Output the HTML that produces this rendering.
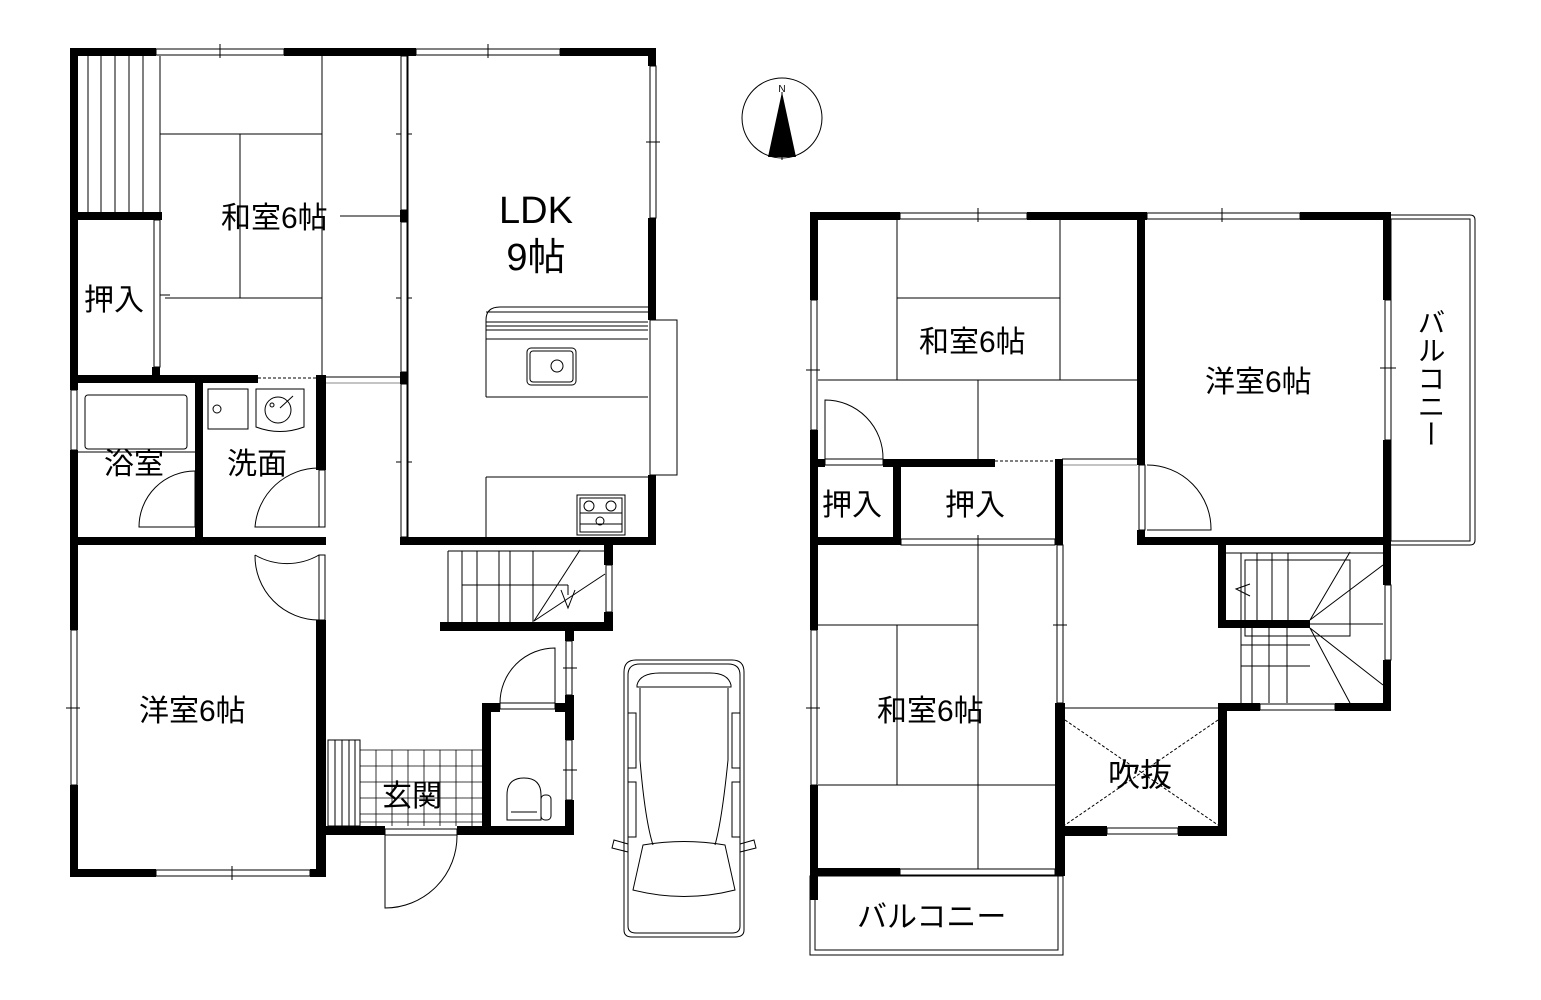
<!DOCTYPE html>
<html><head><meta charset="utf-8"><style>
html,body{margin:0;padding:0;background:#fff;}
svg{display:block}
text{font-family:"Liberation Sans","Noto Sans CJK JP",sans-serif;fill:#000}
</style></head><body>
<svg width="1541" height="1000" viewBox="0 0 1541 1000" xmlns="http://www.w3.org/2000/svg">
<g fill="none" stroke="#000" stroke-width="1">
<line x1="160" y1="56" x2="160" y2="212"/>
<line x1="88" y1="56" x2="88" y2="212"/><line x1="101" y1="56" x2="101" y2="212"/><line x1="115" y1="56" x2="115" y2="212"/><line x1="129" y1="56" x2="129" y2="212"/><line x1="143" y1="56" x2="143" y2="212"/>
<line x1="160" y1="134" x2="322" y2="134"/>
<line x1="165" y1="298" x2="322" y2="298"/>
<line x1="322" y1="56" x2="322" y2="375"/>
<line x1="240" y1="134" x2="240" y2="298"/>
<line x1="340" y1="216" x2="400" y2="216"/>
<line x1="155" y1="295" x2="170" y2="295"/>
<line x1="325" y1="377" x2="400" y2="377"/><line x1="325" y1="383" x2="400" y2="383" stroke="#888"/>
<line x1="408" y1="56" x2="408" y2="537"/>
<line x1="396" y1="134" x2="412" y2="134"/><line x1="396" y1="298" x2="412" y2="298"/><line x1="396" y1="462" x2="412" y2="462"/>
<path d="M486 339 L486 320 Q486 307 500 307 L648 307"/>
<line x1="486" y1="312" x2="648" y2="312"/><line x1="486" y1="322" x2="648" y2="322"/><line x1="486" y1="326" x2="648" y2="326"/><line x1="486" y1="330" x2="648" y2="330"/><line x1="486" y1="339" x2="648" y2="339"/>
<line x1="486" y1="339" x2="486" y2="397"/><line x1="486" y1="397" x2="648" y2="397"/>
<rect x="527" y="348" width="49" height="37" rx="4"/><rect x="530" y="351" width="43" height="31" rx="3"/>
<circle cx="557" cy="366" r="6"/>
<rect x="650" y="320" width="27" height="155"/>
<line x1="486" y1="477" x2="648" y2="477"/><line x1="486" y1="477" x2="486" y2="537"/>
<rect x="577" y="495" width="48" height="40"/><rect x="580" y="498" width="42" height="34"/>
<circle cx="589" cy="506" r="5"/><circle cx="611" cy="506" r="5"/><circle cx="600" cy="521" r="4"/>
<line x1="580" y1="513" x2="622" y2="513"/><line x1="580" y1="524" x2="622" y2="524"/>
<rect x="85" y="395" width="102" height="54" rx="3"/>
<line x1="78" y1="452" x2="195" y2="452"/>
<rect x="208" y="389" width="40" height="40"/><circle cx="217" cy="409" r="4"/>
<path d="M256 389 L304 389 L304 427 Q280 436 256 427 Z"/>
<circle cx="278" cy="410" r="13"/><circle cx="272" cy="405" r="2"/>
<line x1="280" y1="408" x2="293" y2="396"/>
<path d="M195 527 L139 527 A56 56 0 0 1 195 471"/>
<line x1="195" y1="471" x2="195" y2="527"/>
<path d="M319 527 L255 527 A64 64 0 0 1 319 468"/>
<path d="M319 555 A64 64 0 0 1 255 555 M319 555 L319 620 M255 555 A64 64 0 0 0 319 620"/>
<line x1="448" y1="551" x2="448" y2="622"/><line x1="448" y1="551" x2="605" y2="551"/>
<line x1="462" y1="551" x2="462" y2="622"/><line x1="477" y1="551" x2="477" y2="622"/><line x1="499" y1="551" x2="499" y2="622"/><line x1="510" y1="551" x2="510" y2="622"/><line x1="533" y1="551" x2="533" y2="622"/>
<line x1="462" y1="585" x2="568" y2="585"/><line x1="568" y1="585" x2="568" y2="595"/>
<line x1="534" y1="621" x2="580" y2="550"/><line x1="534" y1="621" x2="605" y2="574"/>
<polyline points="561,590 568,608 575,590"/>
<rect x="328" y="740" width="32" height="86"/>
<line x1="335" y1="740" x2="335" y2="826"/><line x1="342" y1="740" x2="342" y2="826"/><line x1="349" y1="740" x2="349" y2="826"/><line x1="355" y1="740" x2="355" y2="826"/>
<g stroke-width="0.8">
<line x1="360" y1="750" x2="483" y2="750"/><line x1="360" y1="766" x2="483" y2="766"/><line x1="360" y1="782" x2="483" y2="782"/><line x1="360" y1="798" x2="483" y2="798"/><line x1="360" y1="814" x2="483" y2="814"/><line x1="360" y1="822" x2="483" y2="822"/>
<line x1="376" y1="750" x2="376" y2="826"/><line x1="392" y1="750" x2="392" y2="826"/><line x1="408" y1="750" x2="408" y2="826"/><line x1="424" y1="750" x2="424" y2="826"/><line x1="440" y1="750" x2="440" y2="826"/><line x1="456" y1="750" x2="456" y2="826"/><line x1="472" y1="750" x2="472" y2="826"/>
</g>
<path d="M385 835 L385 908 A72 72 0 0 0 457 835"/>
<rect x="385" y="829" width="72" height="6"/>
<path d="M555 703 L555 648 A55 55 0 0 0 500 703"/>
<rect x="500" y="703" width="55" height="6"/>
<path d="M507 820 L507 795 Q507 778 524 778 Q541 778 541 795 L541 820 Z"/>
<rect x="541" y="795" width="10" height="25" rx="4"/><line x1="511" y1="812" x2="537" y2="812"/>
<path d="M624 672 Q624 660 636 660 L732 660 Q744 660 744 672 L744 930 Q744 937 735 937 L632 937 Q624 937 624 930 Z"/>
<path d="M628 675 Q628 664 640 664 L728 664 Q740 664 740 675 L740 926 Q740 933 732 933 L636 933 Q628 933 628 926 Z"/>
<path d="M637 685 Q640 673 660 673 L710 673 Q728 673 731 685 L731 687 L637 687 Z"/>
<path d="M640 688 L640 760 Q645 820 653 845 M728 688 L728 760 Q722 820 715 845"/>
<path d="M643 845 Q684 838 725 845 L735 890 Q684 903 633 890 Z"/>
<rect x="628" y="713" width="8" height="55"/><rect x="732" y="713" width="8" height="55"/>
<rect x="628" y="782" width="8" height="55"/><rect x="732" y="782" width="8" height="55"/>
<path d="M628 844 L614 840 L612 848 L628 852 M740 844 L754 840 L756 848 L740 852"/>
<circle cx="782" cy="118" r="40"/>
<line x1="782" y1="92" x2="782" y2="160"/>
<line x1="897" y1="220" x2="897" y2="380"/><line x1="1060" y1="220" x2="1060" y2="380"/>
<line x1="897" y1="298" x2="1060" y2="298"/>
<line x1="818" y1="380" x2="1137" y2="380"/>
<line x1="978" y1="380" x2="978" y2="459"/>
<path d="M825 459 L825 400 A58 58 0 0 1 883 459"/>
<rect x="825" y="459" width="58" height="6" fill="#fff"/>
<line x1="1062" y1="459" x2="1137" y2="459"/><line x1="1062" y1="465" x2="1137" y2="465" stroke="#888"/>
<path d="M1147 465 A64 64 0 0 1 1211 530 L1147 530"/>
<line x1="818" y1="625" x2="978" y2="625"/><line x1="818" y1="785" x2="1057" y2="785"/>
<line x1="978" y1="545" x2="978" y2="870"/><line x1="897" y1="625" x2="897" y2="785"/>
<line x1="1063" y1="708" x2="1220" y2="708"/>
<path d="M1391 215 L1470 215 Q1475 215 1475 220 L1475 540 Q1475 545 1470 545 L1391 545"/>
<rect x="1391" y="219" width="79" height="322"/>
<rect x="810" y="876" width="253" height="79"/><rect x="815" y="876" width="243" height="74"/>
<line x1="1226" y1="553" x2="1383" y2="553"/>
<line x1="1241" y1="553" x2="1241" y2="620"/><line x1="1257" y1="553" x2="1257" y2="620"/><line x1="1272" y1="553" x2="1272" y2="620"/><line x1="1288" y1="553" x2="1288" y2="620"/>
<line x1="1241" y1="628" x2="1241" y2="703"/><line x1="1252" y1="628" x2="1252" y2="703"/><line x1="1269" y1="628" x2="1269" y2="703"/><line x1="1287" y1="628" x2="1287" y2="703"/>
<line x1="1241" y1="645" x2="1310" y2="645"/><line x1="1241" y1="666" x2="1310" y2="666"/><line x1="1226" y1="624" x2="1383" y2="624"/>
<rect x="1245" y="560" width="105" height="76"/>
<line x1="1310" y1="620" x2="1350" y2="552"/><line x1="1310" y1="620" x2="1383" y2="565"/>
<line x1="1310" y1="628" x2="1383" y2="685"/><line x1="1310" y1="628" x2="1350" y2="703"/>
<polyline points="1250,584 1236,589 1250,596"/>
</g>
<g stroke="#000" stroke-dasharray="3,2" stroke-width="1" fill="none">
<line x1="1065" y1="720" x2="1218" y2="825"/><line x1="1218" y1="720" x2="1065" y2="825"/>
<line x1="258" y1="378" x2="322" y2="378"/>
<line x1="995" y1="461" x2="1055" y2="461"/>
</g>
<g fill="#000">
<rect x="70" y="48" width="86" height="8"/><rect x="284" y="48" width="132" height="8"/><rect x="560" y="48" width="96" height="8"/>
<rect x="70" y="48" width="8" height="342"/><rect x="70" y="450" width="8" height="180"/><rect x="70" y="785" width="8" height="92"/>
<rect x="70" y="212" width="92" height="8"/>
<rect x="152" y="212" width="10" height="8"/><rect x="152" y="367" width="8" height="16"/>
<rect x="70" y="375" width="188" height="8"/>
<rect x="400" y="48" width="8" height="8"/><rect x="400" y="210" width="8" height="12"/><rect x="400" y="372" width="8" height="12"/>
<rect x="648" y="48" width="8" height="18"/><rect x="648" y="218" width="8" height="102"/><rect x="648" y="475" width="8" height="70"/>
<rect x="400" y="537" width="256" height="8"/>
<rect x="195" y="383" width="8" height="162"/>
<rect x="316" y="375" width="10" height="95"/>
<rect x="70" y="537" width="256" height="8"/>
<rect x="316" y="620" width="10" height="257"/>
<rect x="70" y="869" width="86" height="8"/><rect x="310" y="869" width="16" height="8"/>
<rect x="440" y="622" width="173" height="9"/><rect x="604" y="545" width="9" height="20"/><rect x="604" y="612" width="9" height="19"/>
<rect x="565" y="631" width="9" height="10"/><rect x="565" y="695" width="9" height="45"/><rect x="565" y="800" width="9" height="35"/>
<rect x="482" y="703" width="18" height="9"/><rect x="555" y="703" width="19" height="9"/>
<rect x="482" y="703" width="9" height="132"/>
<rect x="316" y="826" width="69" height="9"/><rect x="457" y="826" width="117" height="9"/>
<polygon points="782,92 768,157 796,157"/>
<rect x="810" y="212" width="90" height="8"/><rect x="1027" y="212" width="120" height="8"/><rect x="1300" y="212" width="91" height="8"/>
<rect x="810" y="212" width="8" height="88"/><rect x="810" y="430" width="8" height="200"/><rect x="810" y="785" width="8" height="115"/>
<rect x="1137" y="212" width="8" height="253"/><rect x="1137" y="530" width="8" height="15"/>
<rect x="1383" y="212" width="8" height="88"/><rect x="1383" y="440" width="8" height="145"/><rect x="1383" y="660" width="8" height="51"/>
<rect x="1137" y="537" width="254" height="8"/>
<rect x="818" y="459" width="7" height="8"/><rect x="883" y="459" width="112" height="8"/><rect x="1055" y="459" width="8" height="8"/>
<rect x="893" y="459" width="8" height="86"/>
<rect x="1055" y="459" width="8" height="86"/>
<rect x="810" y="537" width="91" height="8"/>
<rect x="1055" y="703" width="10" height="173"/>
<rect x="810" y="868" width="90" height="8"/><rect x="1055" y="868" width="8" height="8"/>
<rect x="1055" y="826" width="52" height="10"/><rect x="1178" y="826" width="49" height="10"/>
<rect x="1218" y="703" width="9" height="133"/>
<rect x="1218" y="545" width="8" height="83"/><rect x="1218" y="620" width="92" height="8"/>
<rect x="1222" y="703" width="38" height="8"/><rect x="1335" y="703" width="56" height="8"/>
</g>
<g fill="#fff" stroke="#000" stroke-width="1">
<rect x="156" y="49" width="128" height="6"/><rect x="416" y="49" width="144" height="6"/>
<rect x="650" y="66" width="6" height="152"/><rect x="154" y="220" width="6" height="147"/>
<rect x="71" y="390" width="6" height="60"/><rect x="71" y="630" width="6" height="155"/>
<rect x="156" y="870" width="154" height="6"/><rect x="319" y="470" width="6" height="57"/><rect x="319" y="555" width="6" height="65"/>
<rect x="401" y="56" width="6" height="154"/><rect x="401" y="222" width="6" height="150"/><rect x="401" y="384" width="6" height="153"/>
<rect x="606" y="565" width="6" height="47"/><rect x="566" y="641" width="6" height="54"/><rect x="566" y="740" width="6" height="60"/>
<rect x="900" y="213" width="127" height="6"/><rect x="1147" y="213" width="153" height="6"/>
<rect x="811" y="300" width="6" height="130"/><rect x="811" y="630" width="6" height="155"/>
<rect x="1385" y="300" width="6" height="140"/><rect x="1385" y="585" width="6" height="75"/>
<rect x="1139" y="465" width="6" height="65"/>
<rect x="901" y="539" width="154" height="6"/><rect x="1057" y="545" width="6" height="158"/>
<rect x="900" y="869" width="155" height="6"/><rect x="1107" y="828" width="71" height="6"/><rect x="1260" y="704" width="75" height="6"/>
</g>
<g stroke="#000" stroke-width="1">
<line x1="220" y1="44" x2="220" y2="58"/><line x1="488" y1="44" x2="488" y2="58"/><line x1="646" y1="142" x2="660" y2="142"/>
<line x1="232" y1="866" x2="232" y2="880"/><line x1="66" y1="708" x2="80" y2="708"/>
<line x1="563" y1="668" x2="577" y2="668"/><line x1="563" y1="770" x2="577" y2="770"/>
<line x1="978" y1="208" x2="978" y2="222"/><line x1="1222" y1="208" x2="1222" y2="222"/>
<line x1="806" y1="370" x2="820" y2="370"/><line x1="806" y1="708" x2="820" y2="708"/><line x1="1380" y1="368" x2="1396" y2="368"/>
<line x1="978" y1="535" x2="978" y2="549"/><line x1="1053" y1="625" x2="1067" y2="625"/>
</g>
<g font-size="30">
<text x="221" y="228">和室6帖</text>
<text x="84" y="310">押入</text>
<text x="104" y="474">浴室</text>
<text x="227" y="474">洗面</text>
<text x="139" y="721">洋室6帖</text>
<text x="382" y="806">玄関</text>
<text x="919" y="352">和室6帖</text>
<text x="1205" y="392">洋室6帖</text>
<text x="822" y="515">押入</text>
<text x="945" y="515">押入</text>
<text x="877" y="721">和室6帖</text>
<text x="1108" y="786" font-size="32">吹抜</text>
<text x="857" y="927">バルコニー</text>
</g>
<text x="536" y="223" font-size="38" text-anchor="middle">LDK</text>
<text x="536" y="270" font-size="38" text-anchor="middle">9帖</text>
<text x="782" y="92" font-size="10" text-anchor="middle" font-family="Liberation Serif,serif">N</text>
<text x="1430" y="308" font-size="28" style="writing-mode:vertical-rl" font-family="Noto Sans CJK JP, sans-serif">バルコニー</text>
</svg>
</body></html>
